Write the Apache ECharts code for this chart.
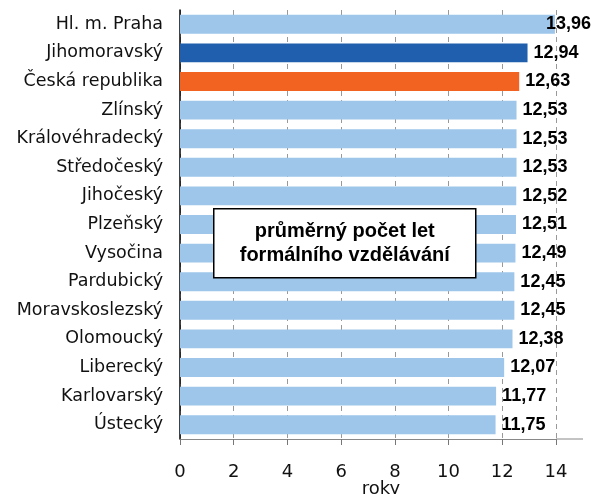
<!DOCTYPE html>
<html><head><meta charset="utf-8">
<script src="https://cdn.jsdelivr.net/npm/echarts@6/dist/echarts.min.js"></script>
<style>html,body{margin:0;padding:0;background:#fff}#c{width:592px;height:494px}</style>
</head><body><div id="c"></div>
<script>
const categories = ["Hl. m. Praha","Jihomoravský","Česká republika","Zlínský","Královéhradecký","Středočeský","Jihočeský","Plzeňský","Vysočina","Pardubický","Moravskoslezský","Olomoucký","Liberecký","Karlovarský","Ústecký"];
const values = [13.96,12.94,12.63,12.53,12.53,12.53,12.52,12.51,12.49,12.45,12.45,12.38,12.07,11.77,11.75];
const tickLabels = ["0","2","4","6","8","10","12","14"];
const boxText = "průměrný počet let\nformálního vzdělávání";
const axisName = "roky";

const colorLight = "#9DC6EA", colorDark = "#1F5FAD", colorOrange = "#F26322";
const data = values.map((v,i)=>{
  const item = {value:v};
  if (categories[i]==="Jihomoravský") item.itemStyle={color:colorDark};
  if (categories[i]==="Česká republika") item.itemStyle={color:colorOrange};
  if (i===0) item.label={offset:[-15,0]};
  return item;
});
const chart = echarts.init(document.getElementById('c'));
chart.setOption({
  animation:false,
  textStyle:{fontFamily:"DejaVu Sans, sans-serif"},
  grid:{left:180,right:36,top:10,bottom:55,containLabel:false,outerBoundsMode:'none'},
  xAxis:{type:'value',min:0,max:14,interval:2,
    axisLine:{show:true,lineStyle:{color:'#888',width:1}},
    axisTick:{show:true,length:6,lineStyle:{color:'#777'}},
    axisLabel:{fontSize:18,color:'#111',margin:24,fontFamily:'DejaVu Sans',
      formatter:(v)=>{const i=v/2;return Number.isInteger(i)&&i<tickLabels.length?tickLabels[i]:'';}},
    splitLine:{show:true,lineStyle:{color:'#999',type:[5,4],width:1}}
  },
  yAxis:{type:'category',data:categories,inverse:true,
    axisLine:{show:true,lineStyle:{color:'#000',width:1.5}},
    axisTick:{show:false},
    axisLabel:{fontSize:17.5,color:'#111',margin:17,fontFamily:'DejaVu Sans'}
  },
  series:[{type:'bar',data:data,barWidth:'66%',
    itemStyle:{color:colorLight},
    label:{show:true,position:'right',distance:6,fontSize:18,fontWeight:'bold',color:'#000',
      fontFamily:'Liberation Sans, Arial, sans-serif',
      formatter:p=>p.value.toFixed(2).replace('.',',')}
  }],
  graphic:[
    {type:'line',z:50,shape:{x1:556,y1:439,x2:583,y2:439},style:{stroke:'#888',lineWidth:1}},
    {type:'text',z:50,x:381,y:480,style:{text:axisName,fontSize:18,fill:'#111',align:'center',
      verticalAlign:'top',fontFamily:'DejaVu Sans'}},
    {type:'group',left:213,top:208,z:100,children:[
    {type:'rect',z:100,shape:{x:0,y:0,width:262,height:69},style:{fill:'#fff',stroke:'#000',lineWidth:1.5}},
    {type:'text',z:101,x:131,y:34.5,style:{text:boxText,fontSize:20,fontWeight:'bold',fill:'#000',
      align:'center',verticalAlign:'middle',lineHeight:24,fontFamily:'Liberation Sans, Arial, sans-serif'}}
  ]}]
});
</script></body></html>
